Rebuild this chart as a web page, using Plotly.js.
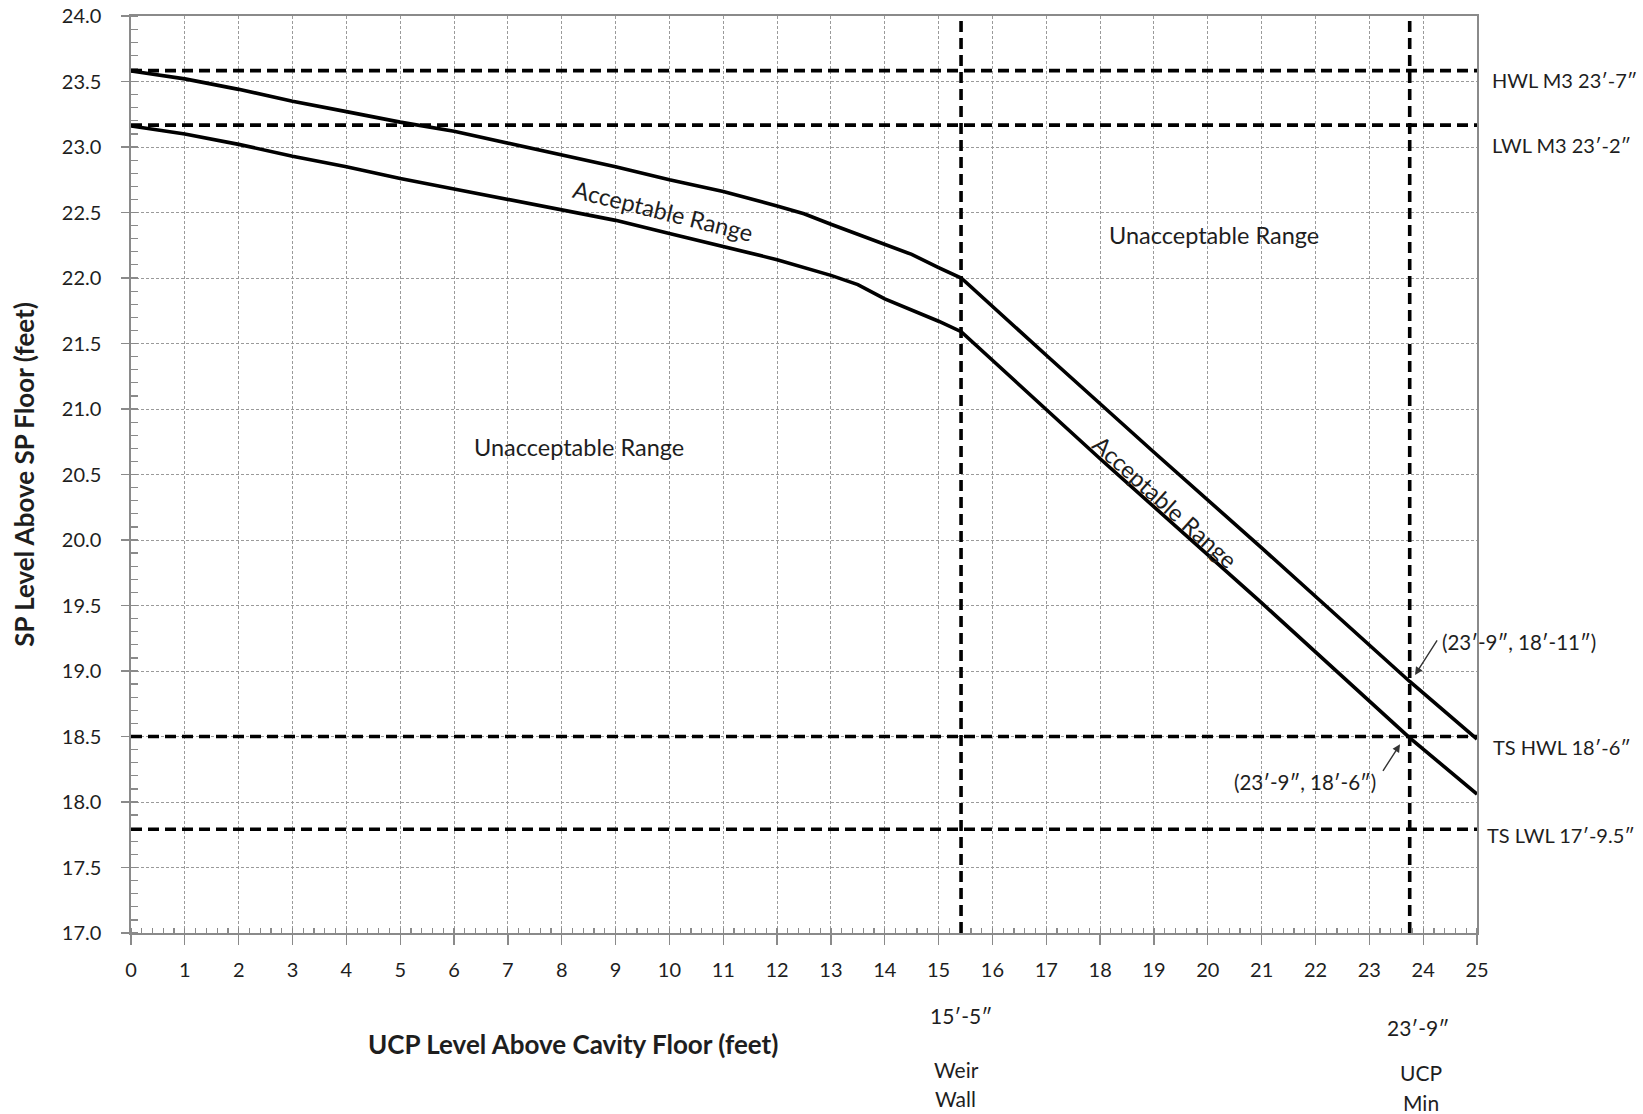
<!DOCTYPE html>
<html>
<head>
<meta charset="utf-8">
<script src="https://cdn.plot.ly/plotly-3.0.1.min.js"></script>
<style>
html,body{margin:0;padding:0;background:#fff;}
#chart{width:1643px;height:1114px;}
</style>
</head>
<body>
<div id="chart"></div>
<script>
// ---- data ----
const upperX = [0, 1, 2, 3, 4, 5, 6, 7, 8, 9, 10, 11, 12, 12.5, 13, 14, 14.5, 15, 15.42, 17, 18, 19, 21, 23.75, 25];
const upperY = [23.58, 23.52, 23.44, 23.35, 23.27, 23.19, 23.12, 23.03, 22.94, 22.85, 22.75, 22.66, 22.55, 22.49, 22.41, 22.26, 22.18, 22.08, 22.0, 21.41, 21.04, 20.67, 19.94, 18.92, 18.48];
const lowerX = [0, 1, 2, 3, 4, 5, 6, 7, 8, 9, 10, 11, 12, 13, 13.5, 14, 15, 15.42, 16, 17, 18, 21, 23.75, 25];
const lowerY = [23.16, 23.10, 23.02, 22.93, 22.85, 22.76, 22.68, 22.60, 22.52, 22.44, 22.34, 22.24, 22.14, 22.02, 21.95, 21.84, 21.67, 21.59, 21.37, 20.99, 20.62, 19.52, 18.49, 18.06];

const hLineValues = [23.583, 23.167, 18.5, 17.792];
const hLineLabels = ['HWL M3 23′-7″', 'LWL M3 23′-2″', 'TS HWL 18′-6″', 'TS LWL 17′-9.5″'];
const vLineValues = [15.417, 23.75];
const vLineLabels = [['15′-5″', 'Weir', 'Wall'], ['23′-9″', 'UCP', 'Min']];

const xTickVals = [0,1,2,3,4,5,6,7,8,9,10,11,12,13,14,15,16,17,18,19,20,21,22,23,24,25];
const yTickVals = [17, 17.5, 18, 18.5, 19, 19.5, 20, 20.5, 21, 21.5, 22, 22.5, 23, 23.5, 24];
const yTickText = ['17.0','17.5','18.0','18.5','19.0','19.5','20.0','20.5','21.0','21.5','22.0','22.5','23.0','23.5','24.0'];

const regionLabels = ['Acceptable Range', 'Acceptable Range', 'Unacceptable Range', 'Unacceptable Range'];
const pointLabels = ['(23′-9″, 18′-11″)', '(23′-9″, 18′-6″)'];
const pointTargets = [[23.85, 18.97], [23.57, 18.44]];

const xTitle = 'UCP Level Above Cavity Floor (feet)';
const yTitle = 'SP Level Above SP Floor (feet)';

// ---- styling ----
const FONT = 'Lato, "Noto Sans", "DejaVu Sans", sans-serif';
const TXT = '#1e1e1e';
const AX = '#8a8a8a';

const traces = [
  {x: upperX, y: upperY, mode: 'lines', line: {color: '#000', width: 3.6}, hoverinfo: 'skip', showlegend: false},
  {x: lowerX, y: lowerY, mode: 'lines', line: {color: '#000', width: 3.6}, hoverinfo: 'skip', showlegend: false}
];

const shapes = [];
hLineValues.forEach(v => shapes.push({type: 'line', xref: 'paper', x0: 0, x1: 1, yref: 'y', y0: v, y1: v,
  line: {color: '#000', width: 3.6, dash: '11px,6px'}, layer: 'above'}));
vLineValues.forEach(v => shapes.push({type: 'line', yref: 'paper', y0: 0, y1: 1, xref: 'x', x0: v, x1: v,
  line: {color: '#000', width: 3.6, dash: '11px,6px'}, layer: 'above'}));

const annotations = [];
const rightShift = [[13, -9], [13, -20], [14, -10], [8, -6]];
hLineLabels.forEach((t, i) => annotations.push({text: t, xref: 'paper', x: 1, xanchor: 'left', xshift: rightShift[i][0],
  yref: 'y', y: hLineValues[i], yanchor: 'middle', yshift: rightShift[i][1], showarrow: false,
  font: {family: FONT, size: 20, color: TXT}}));

const bottomRows = [[-0.0895, -0.1485, -0.181], [-0.1035, -0.1525, -0.1845]];
const bottomShift = [[0, -5, -6], [8, 11, 11]];
vLineLabels.forEach((rows, i) => rows.forEach((t, j) => annotations.push({text: t, xref: 'x', x: vLineValues[i],
  xshift: bottomShift[i][j], yref: 'paper', y: bottomRows[i][j], yanchor: 'middle', xanchor: 'center', showarrow: false,
  font: {family: FONT, size: 21, color: TXT}})));

const regionPos = [[9.89, 22.51, 14], [19.21, 20.29, 42], [8.33, 20.71, 0], [20.12, 22.33, 0]];
regionLabels.forEach((t, i) => annotations.push({text: t, x: regionPos[i][0], y: regionPos[i][1], xref: 'x', yref: 'y',
  xanchor: 'center', yanchor: 'middle',
  textangle: regionPos[i][2], showarrow: false, font: {family: FONT, size: 23.5, color: TXT}}));

// point callouts: arrows + texts
const arrowTail = [[23, -36], [-18, 28]];
pointTargets.forEach((p, i) => annotations.push({text: '', x: p[0], y: p[1], xref: 'x', yref: 'y',
  showarrow: true, ax: arrowTail[i][0], ay: arrowTail[i][1], arrowhead: 2, arrowsize: 1.1, arrowwidth: 1.4,
  arrowcolor: '#333', standoff: 0, startstandoff: 0}));
annotations.push({text: pointLabels[0], xref: 'paper', x: 1.0312, xanchor: 'center', yref: 'paper', y: 0.3173,
  yanchor: 'middle', showarrow: false, font: {family: FONT, size: 20.5, color: TXT}});
annotations.push({text: pointLabels[1], xref: 'x', x: 21.8, xanchor: 'center', yref: 'y', y: 18.15,
  yanchor: 'middle', showarrow: false, font: {family: FONT, size: 20.5, color: TXT}});

annotations.push({text: '<b>' + xTitle + '</b>', xref: 'paper', x: 0.3285, xanchor: 'center', yref: 'paper', y: -0.121,
  yanchor: 'middle', showarrow: false, font: {family: FONT, size: 26, color: TXT}});

const layout = {
  width: 1643, height: 1114,
  margin: {l: 131, r: 166, t: 16, b: 181},
  paper_bgcolor: '#fff', plot_bgcolor: '#fff',
  font: {family: FONT, size: 20, color: TXT},
  showlegend: false,
  xaxis: {
    range: [0, 25], tickvals: xTickVals, ticktext: xTickVals.map(String),
    ticks: 'outside', ticklen: 10, tickwidth: 1.3, tickcolor: AX,
    showline: true, linecolor: AX, linewidth: 1.6, mirror: true,
    showgrid: true, gridcolor: '#9a9a9a', gridwidth: 1, griddash: '3px,2px',
    zeroline: false, ticklabelstandoff: 8,
    tickfont: {family: FONT, size: 20, color: TXT},
    minor: {dtick: 0.2, tick0: 0, ticks: 'inside', ticklen: 5, tickwidth: 1.2, tickcolor: AX, showgrid: false}
  },
  yaxis: {
    range: [17, 24], tickvals: yTickVals, ticktext: yTickText,
    ticks: 'outside', ticklen: 8, tickwidth: 1.3, tickcolor: AX,
    showline: true, linecolor: AX, linewidth: 1.6, mirror: true,
    showgrid: true, gridcolor: '#9a9a9a', gridwidth: 1, griddash: '3px,2px',
    zeroline: false, ticklabelstandoff: 16,
    tickfont: {family: FONT, size: 20, color: TXT},
    minor: {dtick: 0.1, tick0: 17, ticks: 'inside', ticklen: 7, tickwidth: 1.2, tickcolor: AX, showgrid: false},
    title: {text: '<b>' + yTitle + '</b>', standoff: 20, font: {family: FONT, size: 26, color: TXT}}
  },
  shapes: shapes,
  annotations: annotations
};

Plotly.newPlot('chart', traces, layout, {staticPlot: true, displayModeBar: false});
</script>
</body>
</html>
